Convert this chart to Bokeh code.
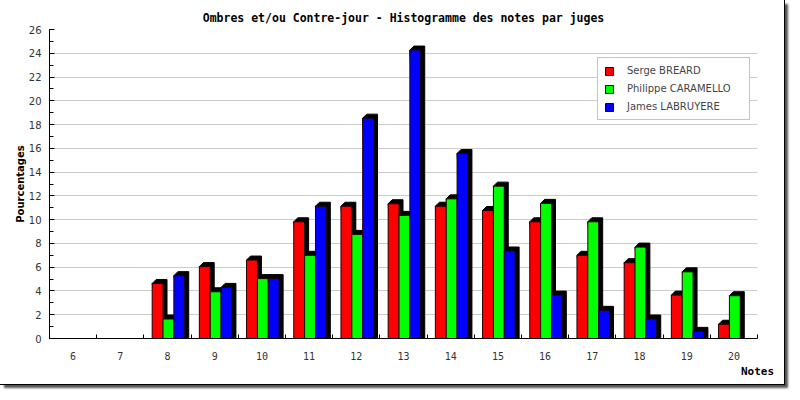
from bokeh.plotting import figure
from bokeh.models import FixedTicker, Legend, LegendItem
from bokeh.embed import file_html
from bokeh.resources import INLINE

# ---- data ----
notes = [6, 7, 8, 9, 10, 11, 12, 13, 14, 15, 16, 17, 18, 19, 20]
tick_labels = ["6", "7", "8", "9", "10", "11", "12", "13", "14", "15", "16", "17", "18", "19", "20"]
serge = [0, 0, 4.63, 6.05, 6.6, 9.82, 11.13, 11.34, 11.13, 10.77, 9.82, 7.0, 6.38, 3.65, 1.2]
philippe = [0, 0, 1.64, 3.93, 5.04, 7.0, 8.76, 10.36, 11.75, 12.82, 11.37, 9.82, 7.69, 5.61, 3.6]
james = [0, 0, 5.29, 4.3, 5.04, 11.13, 18.54, 24.27, 15.57, 7.36, 3.65, 2.37, 1.64, 0.6, 0]
series_names = ["Serge BREARD", "Philippe CARAMELLO", "James LABRUYERE"]
series_values = [serge, philippe, james]
colors = ["#ff0000", "#00ff00", "#0000ff"]
y_ticks = list(range(0, 27, 2))

# ---- styling ----
FRAME_W, FRAME_H = 708, 309
X0, X1 = 5.5, 20.5
Y0, Y1 = 0, 26
offsets = [-0.21, 0.02, 0.25]
bar_w = 0.23
dx = 4 * (X1 - X0) / FRAME_W
dy = 4 * (Y1 - Y0) / FRAME_H

p = figure(frame_width=FRAME_W, frame_height=FRAME_H, x_range=(X0, X1), y_range=(Y0, Y1),
           output_backend="svg", toolbar_location=None,
           min_border_left=49, min_border_right=27, min_border_top=29, min_border_bottom=46,
           title="Ombres et/ou Contre-jour - Histogramme des notes par juges")
p.styles = {"outline": "1px solid #000000", "box-shadow": "4px 4px 2px #555555"}
p.outline_line_color = None
p.background_fill_color = "white"
p.border_fill_color = "white"

p.title.text_font = "DejaVu Sans Mono"
p.title.text_font_size = "11.5px"
p.title.text_font_style = "bold"
p.title.text_color = "black"
p.title.align = "center"
p.title.offset = -11
p.title.standoff = 10

legend_items = []
for vals, name, col, off in zip(series_values, series_names, colors, offsets):
    xs_sh, ys_sh = [], []
    lefts, rights, tops = [], [], []
    for n, v in zip(notes, vals):
        if v <= 0:
            continue
        l = n + off - bar_w / 2
        r = l + bar_w
        xs_sh.append([l, l + dx, r + dx, r + dx, r])
        ys_sh.append([v, v + dy, v + dy, 0, 0])
        lefts.append(l)
        rights.append(r)
        tops.append(v)
    p.patches(xs_sh, ys_sh, fill_color="black", line_color="black", line_width=1)
    rq = p.quad(left=lefts, right=rights, top=tops, bottom=0, fill_color=col,
                line_color="#200000", line_width=1)
    legend_items.append(LegendItem(label=name, renderers=[rq]))

# axes
p.xaxis.ticker = FixedTicker(ticks=notes, minor_ticks=[X0 + i for i in range(16)])
p.xaxis.major_label_overrides = {n: t for n, t in zip(notes, tick_labels)}
p.xaxis.major_tick_line_color = None
p.xaxis.minor_tick_in = 4
p.xaxis.minor_tick_out = 0
p.xaxis.major_label_text_font = "DejaVu Sans Mono"
p.xaxis.major_label_text_font_size = "10px"
p.xaxis.major_label_text_color = "#333333"
p.xaxis.major_label_standoff = 7
p.xaxis.axis_line_color = "black"
p.xaxis.axis_label = "Notes"
p.xaxis.axis_label_text_font = "DejaVu Sans Mono"
p.xaxis.axis_label_text_font_size = "11px"
p.xaxis.axis_label_text_font_style = "bold"
p.xaxis.axis_label_text_color = "black"
p.xaxis.axis_label_standoff = 2
try:
    p.xaxis.axis_label_align = "end"
except Exception:
    pass

p.yaxis.ticker = FixedTicker(ticks=y_ticks, minor_ticks=list(range(0, 27)))
p.yaxis.major_tick_in = 5
p.yaxis.major_tick_out = 0
p.yaxis.minor_tick_in = 4
p.yaxis.minor_tick_out = 0
p.yaxis.major_label_text_font = "DejaVu Sans"
p.yaxis.major_label_text_font_size = "10px"
p.yaxis.major_label_text_color = "#333333"
p.yaxis.major_label_standoff = 8
p.yaxis.axis_label = "Pourcentages"
p.yaxis.axis_label_text_font = "DejaVu Sans"
p.yaxis.axis_label_text_font_size = "10px"
p.yaxis.axis_label_text_font_style = "bold"
p.yaxis.axis_label_text_color = "black"
p.yaxis.axis_label_standoff = 0

p.xgrid.grid_line_color = None
p.ygrid.grid_line_color = "#cccccc"
p.ygrid.ticker = FixedTicker(ticks=y_ticks)

legend = Legend(items=legend_items, location=(548, 218))
legend.padding = 6
legend.glyph_width = 10
legend.glyph_height = 10
legend.label_height = 13
legend.spacing = 5
legend.label_standoff = 13
legend.label_width = 116
legend.label_text_font = "DejaVu Sans"
legend.label_text_font_size = "10px"
legend.border_line_color = "#888888"
legend.background_fill_color = "white"
legend.background_fill_alpha = 1.0
p.add_layout(legend)

open("out.html", "w").write(file_html(p, INLINE))
